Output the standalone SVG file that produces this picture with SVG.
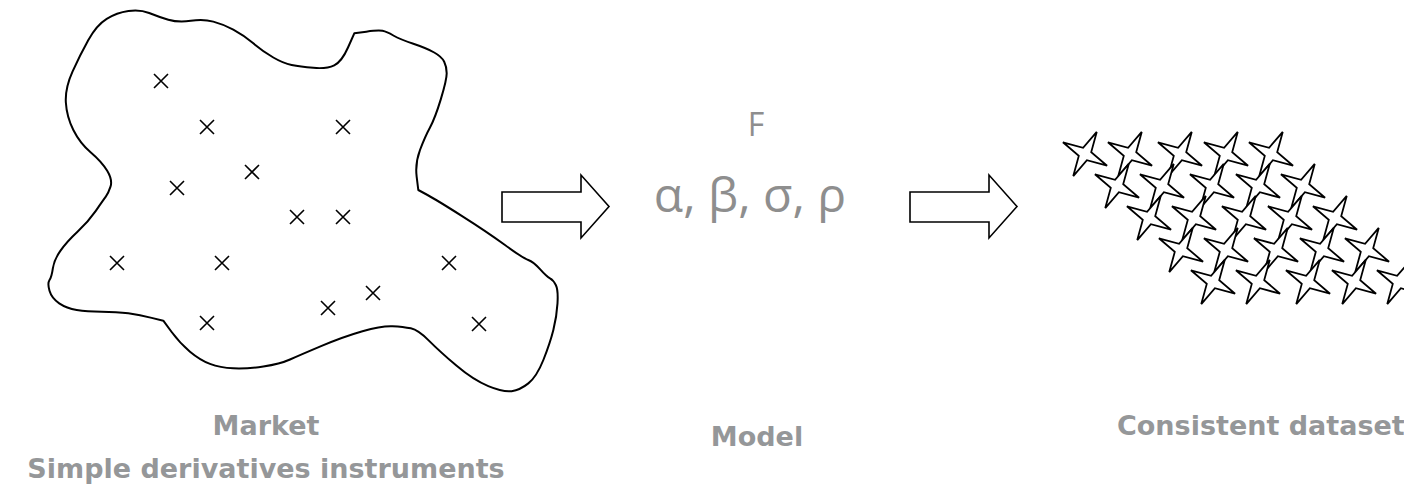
<svg xmlns="http://www.w3.org/2000/svg" xmlns:xlink="http://www.w3.org/1999/xlink" width="1404" height="497" viewBox="0 0 1404 497">
<style>
.outline{fill:none;stroke:#000;stroke-width:2;stroke-linejoin:round;stroke-linecap:round}
.cross{fill:none;stroke:#000;stroke-width:1.6}
.arrow{fill:#fff;stroke:#000;stroke-width:1.6;stroke-linejoin:miter}
.star{fill:#fff;stroke:#000;stroke-width:1.8;stroke-linejoin:miter}
.lbl{font-family:"DejaVu Sans",Verdana,sans-serif;font-weight:bold;fill:#959799;font-size:27px}
.math{font-family:"Open Sans","Liberation Sans",sans-serif;fill:#8e8e8e}
</style>
<defs>
<path id="x" d="M-7,-7 L7,7 M-7,7 L7,-7"/>
<path id="star" d="M25,0 L4.6,4.6 L0,25 L-4.6,4.6 L-25,0 L-4.6,-4.6 L0,-25 L4.6,-4.6 Z"/>
</defs>
<g id="market">
<path class="outline" d="M128.35,11 Q140,9.3 149.15,13 Q158.3,16.7 168.3,19.7 Q178.3,22.7 190.8,20.85 Q203.3,19 213.3,21.65 Q223.3,24.3 233.3,29.65 Q243.3,35 253.3,43.35 Q263.3,51.7 273.3,57.5 Q283.3,63.3 291.65,65 Q300,66.7 313.35,67.85 Q326.7,69 334.2,65.35 Q341.7,61.7 348,47.5 L354.3,33.3 L366.3,31.65 Q378.3,30 382.5,30.85 Q386.7,31.7 393.35,35.5 Q400,39.3 413.35,43.8 Q426.7,48.3 434.2,52.5 Q441.7,56.7 444.2,61.7 Q446.7,66.7 446.7,73.35 Q446.7,80 440.85,99.15 Q435,118.3 430,127.5 Q425,136.7 420,150 Q415,163.3 416.65,176.65 L418.3,190 L427.5,195 Q436.7,200 461.7,215.85 Q486.7,231.7 505,245 Q523.3,258.3 528.3,260 Q533.3,261.7 540,269.2 Q546.7,276.7 550,278.35 Q553.3,280 555.8,285 Q558.3,290 557.5,303.35 Q556.7,316.7 553.35,330 Q550,343.3 543.35,360 Q536.7,376.7 528.35,383.35 Q520,390 511.65,391.15 Q503.3,392.3 488.3,386.15 Q473.3,380 456.65,365.85 Q440,351.7 429.15,340.85 Q418.3,330 410.8,328.35 Q403.3,326.7 392.5,326.2 Q381.7,325.7 362.5,331.2 Q343.3,336.7 321.65,345.85 Q300,355 290,359.5 Q280,364 263.35,366.5 Q246.7,369 233.35,368.35 Q220,367.7 210,363.85 Q200,360 190,351.65 Q180,343.3 171.65,332 L163.3,320.7 L151.65,317.85 Q140,315 128.35,313.35 Q116.7,311.7 101.7,311.7 Q86.7,311.7 76.7,310 Q66.7,308.3 59.2,303.3 Q51.7,298.3 49.5,290.8 Q47.3,283.3 49.5,280 Q51.7,276.7 52.85,268.35 Q54,260 60.35,250.85 Q66.7,241.7 77.5,231.7 Q88.3,221.7 95.8,210.85 Q103.3,200 105.8,196.65 Q108.3,193.3 110.5,186.65 Q112.7,180 107.2,170.85 Q101.7,161.7 90.85,152.5 Q80,143.3 73.35,130 Q66.7,116.7 65.85,102.5 Q65,88.3 72.5,71.65 Q80,55 88.35,40 Q96.7,25 106.7,18.85 Q116.7,12.7 128.35,11 Z"/>
<g class="cross">
<use xlink:href="#x" href="#x" x="161" y="81"/>
<use xlink:href="#x" href="#x" x="207" y="127"/>
<use xlink:href="#x" href="#x" x="343" y="127"/>
<use xlink:href="#x" href="#x" x="252" y="172"/>
<use xlink:href="#x" href="#x" x="177" y="188"/>
<use xlink:href="#x" href="#x" x="297" y="217"/>
<use xlink:href="#x" href="#x" x="343" y="217"/>
<use xlink:href="#x" href="#x" x="117" y="263"/>
<use xlink:href="#x" href="#x" x="222" y="263"/>
<use xlink:href="#x" href="#x" x="449" y="263"/>
<use xlink:href="#x" href="#x" x="373" y="293"/>
<use xlink:href="#x" href="#x" x="328" y="308"/>
<use xlink:href="#x" href="#x" x="207" y="323"/>
<use xlink:href="#x" href="#x" x="479" y="324"/>
</g>
<text class="lbl" x="266" y="435" text-anchor="middle">Market</text>
<text class="lbl" x="266" y="478" text-anchor="middle">Simple derivatives instruments</text>
</g>
<g id="model">
<text class="math" x="756" y="136" font-size="32" text-anchor="middle">F</text>
<text class="math" x="750" y="212" font-size="48" text-anchor="middle">α, β, σ, ρ</text>
<text class="lbl" x="757" y="446" text-anchor="middle">Model</text>
</g>
<g id="dataset">
<g class="star">
<use xlink:href="#star" href="#star" transform="translate(1085,154) rotate(28)"/>
<use xlink:href="#star" href="#star" transform="translate(1130,154) rotate(28)"/>
<use xlink:href="#star" href="#star" transform="translate(1180,154) rotate(28)"/>
<use xlink:href="#star" href="#star" transform="translate(1226,154) rotate(28)"/>
<use xlink:href="#star" href="#star" transform="translate(1271,154) rotate(28)"/>
<use xlink:href="#star" href="#star" transform="translate(1117,186) rotate(28)"/>
<use xlink:href="#star" href="#star" transform="translate(1162,186) rotate(28)"/>
<use xlink:href="#star" href="#star" transform="translate(1212,186) rotate(28)"/>
<use xlink:href="#star" href="#star" transform="translate(1258,186) rotate(28)"/>
<use xlink:href="#star" href="#star" transform="translate(1303,186) rotate(28)"/>
<use xlink:href="#star" href="#star" transform="translate(1149,218) rotate(28)"/>
<use xlink:href="#star" href="#star" transform="translate(1194,218) rotate(28)"/>
<use xlink:href="#star" href="#star" transform="translate(1244,218) rotate(28)"/>
<use xlink:href="#star" href="#star" transform="translate(1290,218) rotate(28)"/>
<use xlink:href="#star" href="#star" transform="translate(1335,218) rotate(28)"/>
<use xlink:href="#star" href="#star" transform="translate(1181,250) rotate(28)"/>
<use xlink:href="#star" href="#star" transform="translate(1226,250) rotate(28)"/>
<use xlink:href="#star" href="#star" transform="translate(1276,250) rotate(28)"/>
<use xlink:href="#star" href="#star" transform="translate(1322,250) rotate(28)"/>
<use xlink:href="#star" href="#star" transform="translate(1367,250) rotate(28)"/>
<use xlink:href="#star" href="#star" transform="translate(1213,282) rotate(28)"/>
<use xlink:href="#star" href="#star" transform="translate(1258,282) rotate(28)"/>
<use xlink:href="#star" href="#star" transform="translate(1308,282) rotate(28)"/>
<use xlink:href="#star" href="#star" transform="translate(1354,282) rotate(28)"/>
<use xlink:href="#star" href="#star" transform="translate(1399,282) rotate(28)"/>
</g>
<text class="lbl" x="1117" y="435">Consistent dataset</text>
</g>
<g id="connectors">
<path class="arrow" d="M502,192 L581,192 L581,175 L609,206.5 L581,238 L581,222 L502,222 Z"/>
<path class="arrow" d="M910,192 L989,192 L989,175 L1017,206.5 L989,238 L989,222 L910,222 Z"/>
</g>
</svg>
